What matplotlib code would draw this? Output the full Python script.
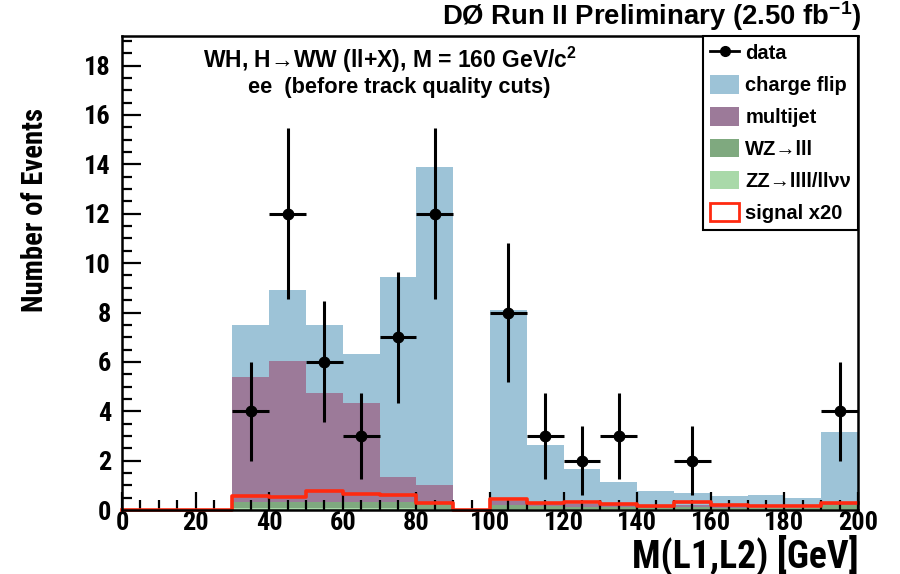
import os
import matplotlib
matplotlib.use("Agg")
import matplotlib.pyplot as plt
from matplotlib.patches import Patch
from matplotlib.lines import Line2D
from matplotlib.ticker import MultipleLocator
from matplotlib import font_manager
from matplotlib.font_manager import FontProperties

# ---- pick a condensed bold font if one is installed ----
files = {os.path.basename(f.fname): f.fname for f in font_manager.fontManager.ttflist}
cond_file = None
for pref in ["NotoSans-ExtraCondensedBold", "NotoSans-CondensedBold", "RobotoCondensed-Bold",
             "Roboto_Condensed-Bold", "LiberationSansNarrow-Bold", "OpenSans_Condensed-Bold",
             "DejaVuSansCondensed-Bold"]:
    for b, p in files.items():
        if b.startswith(pref) and "Italic" not in b:
            cond_file = p
            break
    if cond_file:
        break
MAIN = "Liberation Sans"

def cprop(size):
    if cond_file:
        return FontProperties(fname=cond_file, size=size)
    return FontProperties(family=MAIN, weight="bold", size=size)

# ---- data ----
bin_edges_left = [0, 10, 20, 30, 40, 50, 60, 70, 80, 90, 100, 110, 120, 130, 140, 150, 160, 170, 180, 190]
zz = [0, 0, 0, 0.07, 0.07, 0.07, 0.07, 0.07, 0.06, 0, 0.05, 0.04, 0.04, 0.03, 0.03, 0.03, 0.03, 0.02, 0.02, 0.05]
wz = [0, 0, 0, 0.27, 0.27, 0.27, 0.27, 0.27, 0.24, 0, 0.15, 0.11, 0.10, 0.09, 0.07, 0.08, 0.07, 0.05, 0.05, 0.15]
multijet = [0, 0, 0, 5.05, 5.70, 4.40, 4.00, 1.00, 0.70, 0, 0.15, 0.15, 0.11, 0.08, 0.05, 0.09, 0.05, 0.03, 0.03, 0.10]
chargeflip = [0, 0, 0, 2.11, 2.86, 2.76, 1.96, 8.11, 12.90, 0, 7.75, 2.33, 1.41, 0.93, 0.62, 0.49, 0.42, 0.50, 0.39, 2.86]
signal_x20 = [0, 0, 0, 0.57, 0.51, 0.77, 0.64, 0.61, 0.30, 0, 0.44, 0.30, 0.31, 0.25, 0.18, 0.31, 0.22, 0.15, 0.15, 0.30]

data_x = [35, 45, 55, 65, 75, 85, 105, 115, 125, 135, 155, 195]
data_y = [4, 12, 6, 3, 7, 12, 8, 3, 2, 3, 2, 4]
data_err = [2.0, 3.46, 2.45, 1.73, 2.65, 3.46, 2.83, 1.73, 1.41, 1.73, 1.41, 2.0]

labels = ["data", "charge flip", "multijet", "WZ→lll", "ZZ→llll/llνν", "signal x20"]
C_CF = "#9dc3d7"
C_MJ = "#9c7a99"
C_WZ = "#7fa97f"
C_ZZ = "#a9d9a9"
C_SIG = "#ff2a10"

plt.rcParams["font.family"] = [MAIN, "DejaVu Sans"]
plt.rcParams["mathtext.fontset"] = "custom"
plt.rcParams["mathtext.rm"] = MAIN + ":bold"
plt.rcParams["mathtext.it"] = MAIN + ":bold"
plt.rcParams["mathtext.bf"] = MAIN + ":bold"

fig = plt.figure(figsize=(9.0, 5.74), dpi=100)
renderer = fig.canvas.get_renderer()

def fit(t, target, vertical=False):
    for _ in range(3):
        bb = t.get_window_extent(renderer=renderer)
        cur = bb.height if vertical else bb.width
        t.set_fontsize(t.get_fontsize() * target / cur)
    return t

ax = fig.add_axes([122 / 900, 1 - 510 / 574, (858 - 122) / 900, (510 - 36) / 574])

width = 10
b0 = [0.0] * len(zz)
ax.bar(bin_edges_left, zz, width=width, align="edge", bottom=b0, color=C_ZZ, linewidth=0, zorder=1)
b1 = [a + b for a, b in zip(b0, zz)]
ax.bar(bin_edges_left, wz, width=width, align="edge", bottom=b1, color=C_WZ, linewidth=0, zorder=1)
b2 = [a + b for a, b in zip(b1, wz)]
ax.bar(bin_edges_left, multijet, width=width, align="edge", bottom=b2, color=C_MJ, linewidth=0, zorder=1)
b3 = [a + b for a, b in zip(b2, multijet)]
ax.bar(bin_edges_left, chargeflip, width=width, align="edge", bottom=b3, color=C_CF, linewidth=0, zorder=1)

sx = bin_edges_left + [bin_edges_left[-1] + width]
sy = signal_x20 + [signal_x20[-1]]
ax.step(sx, sy, where="post", color=C_SIG, lw=2.6, zorder=4, clip_on=False)

ax.errorbar(data_x, data_y, yerr=data_err, xerr=5, fmt="o", color="black",
            ms=7.5, elinewidth=2.2, capsize=0, zorder=5)

ax.set_xlim(0, 200)
ax.set_ylim(0, 19.2)
ax.xaxis.set_major_locator(MultipleLocator(20))
ax.xaxis.set_minor_locator(MultipleLocator(5))
ax.yaxis.set_major_locator(MultipleLocator(2))
ax.yaxis.set_minor_locator(MultipleLocator(0.5))
ax.tick_params(which="both", direction="in", top=False, right=False, width=1.6, color="black", zorder=3)
ax.tick_params(which="major", axis="x", length=13, pad=1)
ax.tick_params(which="minor", axis="x", length=7)
ax.tick_params(which="major", axis="y", length=14, pad=8)
ax.tick_params(which="minor", axis="y", length=7)
for sp in ax.spines.values():
    sp.set_linewidth(1.8)
    sp.set_zorder(6)

# tick label size from the width of "200" in the reference
probe = fig.text(0, 0, "200", fontproperties=cprop(20))
fit(probe, 40)
tick_size = probe.get_fontsize()
probe.remove()
for lab in ax.get_xticklabels() + ax.get_yticklabels():
    lab.set_fontproperties(cprop(tick_size))

yl = fig.text(35 / 900, 1 - 210 / 574, "Number of Events", rotation=90, ha="center", va="center",
              fontproperties=cprop(24))
fit(yl, 204, vertical=True)
xl = fig.text(859 / 900, 1 - 555 / 574, "M(L1,L2) [GeV]", ha="right", va="center",
              fontproperties=cprop(26))
fit(xl, 226)

tt = fig.text(861 / 900, 1 - 16 / 574, r"DØ Run II Preliminary (2.50 fb$^{\mathbf{-1}}$)", ha="right", va="center",
              fontfamily=MAIN, fontweight="bold", fontsize=20)
fit(tt, 420)

t1 = fig.text(203 / 900, 1 - 60 / 574, r"WH, H→WW (ll+X), M = 160 GeV/c$^{2}$", ha="left", va="center",
              fontfamily=MAIN, fontweight="bold", fontsize=16)
fit(t1, 375)
t2 = fig.text(248 / 900, 1 - 87 / 574, "ee  (before track quality cuts)", ha="left", va="center",
              fontfamily=MAIN, fontweight="bold", fontsize=15.5)
fit(t2, 302)

handles = [
    Line2D([0], [0], color="black", marker="o", ms=7, lw=2),
    Patch(facecolor=C_CF, edgecolor="none"),
    Patch(facecolor=C_MJ, edgecolor="none"),
    Patch(facecolor=C_WZ, edgecolor="none"),
    Patch(facecolor=C_ZZ, edgecolor="none"),
    Patch(facecolor="white", edgecolor=C_SIG, lw=2),
]
leg = ax.legend(handles, labels, loc="upper right", bbox_to_anchor=(1.0, 1.0), borderaxespad=0,
                frameon=True, fancybox=False, framealpha=1, edgecolor="black",
                prop={"family": MAIN, "weight": "bold", "size": 14.5},
                handlelength=1.45, handleheight=1.05, handletextpad=0.3, labelspacing=0.58,
                borderpad=0.35)
leg.get_frame().set_linewidth(1.5)
leg.set_zorder(7)

fig.savefig("out.png", dpi=100)
